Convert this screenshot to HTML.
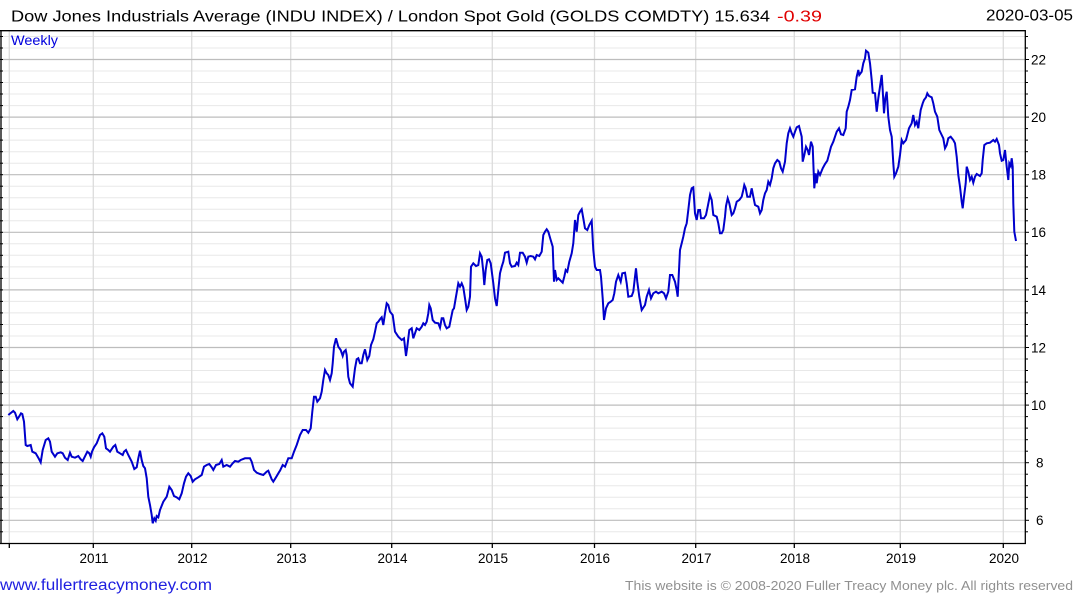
<!DOCTYPE html>
<html><head><meta charset="utf-8"><style>
html,body{margin:0;padding:0;background:#fff;}
svg{display:block;font-family:"Liberation Sans",Arial,sans-serif;}
</style></head><body>
<svg width="1075" height="600" viewBox="0 0 1075 600" xmlns="http://www.w3.org/2000/svg">
<rect width="1075" height="600" fill="#fff"/>
<!-- minor horizontal grid -->
<g stroke="#e8e8e8" stroke-width="1">
<line x1="1" x2="1025" y1="36.5" y2="36.5"/><line x1="1" x2="1025" y1="48" y2="48"/>
<line x1="1" x2="1025" y1="71" y2="71"/><line x1="1" x2="1025" y1="82.5" y2="82.5"/><line x1="1" x2="1025" y1="94" y2="94"/><line x1="1" x2="1025" y1="105.6" y2="105.6"/>
<line x1="1" x2="1025" y1="128.6" y2="128.6"/><line x1="1" x2="1025" y1="140.1" y2="140.1"/><line x1="1" x2="1025" y1="151.7" y2="151.7"/><line x1="1" x2="1025" y1="163.2" y2="163.2"/>
<line x1="1" x2="1025" y1="186.2" y2="186.2"/><line x1="1" x2="1025" y1="197.7" y2="197.7"/><line x1="1" x2="1025" y1="209.3" y2="209.3"/><line x1="1" x2="1025" y1="220.8" y2="220.8"/>
<line x1="1" x2="1025" y1="243.8" y2="243.8"/><line x1="1" x2="1025" y1="255.3" y2="255.3"/><line x1="1" x2="1025" y1="266.9" y2="266.9"/><line x1="1" x2="1025" y1="278.4" y2="278.4"/>
<line x1="1" x2="1025" y1="301.4" y2="301.4"/><line x1="1" x2="1025" y1="312.9" y2="312.9"/><line x1="1" x2="1025" y1="324.5" y2="324.5"/><line x1="1" x2="1025" y1="336" y2="336"/>
<line x1="1" x2="1025" y1="359" y2="359"/><line x1="1" x2="1025" y1="370.5" y2="370.5"/><line x1="1" x2="1025" y1="382.1" y2="382.1"/><line x1="1" x2="1025" y1="393.6" y2="393.6"/>
<line x1="1" x2="1025" y1="416.6" y2="416.6"/><line x1="1" x2="1025" y1="428.1" y2="428.1"/><line x1="1" x2="1025" y1="439.7" y2="439.7"/><line x1="1" x2="1025" y1="451.2" y2="451.2"/>
<line x1="1" x2="1025" y1="474.2" y2="474.2"/><line x1="1" x2="1025" y1="485.7" y2="485.7"/><line x1="1" x2="1025" y1="497.3" y2="497.3"/><line x1="1" x2="1025" y1="508.8" y2="508.8"/>
<line x1="1" x2="1025" y1="531.8" y2="531.8"/>
</g>
<!-- vertical grid -->
<g stroke="#dcdcdc" stroke-width="1.3">
<line x1="9.3" x2="9.3" y1="31" y2="543"/><line x1="93.3" x2="93.3" y1="31" y2="543"/><line x1="191.7" x2="191.7" y1="31" y2="543"/><line x1="290.7" x2="290.7" y1="31" y2="543"/><line x1="391.7" x2="391.7" y1="31" y2="543"/><line x1="492.3" x2="492.3" y1="31" y2="543"/><line x1="594.5" x2="594.5" y1="31" y2="543"/><line x1="695.7" x2="695.7" y1="31" y2="543"/><line x1="794.3" x2="794.3" y1="31" y2="543"/><line x1="900.3" x2="900.3" y1="31" y2="543"/><line x1="1003.3" x2="1003.3" y1="31" y2="543"/>
</g>
<!-- major horizontal grid -->
<g stroke="#bdbdbd" stroke-width="1.2">
<line x1="1" x2="1025" y1="59.5" y2="59.5"/><line x1="1" x2="1025" y1="117.1" y2="117.1"/><line x1="1" x2="1025" y1="174.7" y2="174.7"/><line x1="1" x2="1025" y1="232.3" y2="232.3"/><line x1="1" x2="1025" y1="289.9" y2="289.9"/><line x1="1" x2="1025" y1="347.5" y2="347.5"/><line x1="1" x2="1025" y1="405.1" y2="405.1"/><line x1="1" x2="1025" y1="462.7" y2="462.7"/><line x1="1" x2="1025" y1="520.3" y2="520.3"/>
</g>
<!-- frame -->
<g stroke="#000" stroke-width="1.3" fill="none">
<line x1="0" x2="1025" y1="30.7" y2="30.7"/>
<line x1="1" x2="1" y1="30" y2="544"/>
<line x1="1025.3" x2="1025.3" y1="30" y2="544"/>
<line x1="0" x2="1026" y1="543.5" y2="543.5"/>
</g>
<!-- right ticks -->
<g stroke="#000" stroke-width="1">
<line x1="1025" x2="1028" y1="36.5" y2="36.5"/><line x1="1025" x2="1028" y1="48" y2="48"/><line x1="1025" x2="1029" y1="59.5" y2="59.5"/>
<line x1="1025" x2="1028" y1="71" y2="71"/><line x1="1025" x2="1028" y1="82.5" y2="82.5"/><line x1="1025" x2="1028" y1="94" y2="94"/><line x1="1025" x2="1028" y1="105.6" y2="105.6"/><line x1="1025" x2="1029" y1="117.1" y2="117.1"/>
<line x1="1025" x2="1028" y1="128.6" y2="128.6"/><line x1="1025" x2="1028" y1="140.1" y2="140.1"/><line x1="1025" x2="1028" y1="151.7" y2="151.7"/><line x1="1025" x2="1028" y1="163.2" y2="163.2"/><line x1="1025" x2="1029" y1="174.7" y2="174.7"/>
<line x1="1025" x2="1028" y1="186.2" y2="186.2"/><line x1="1025" x2="1028" y1="197.7" y2="197.7"/><line x1="1025" x2="1028" y1="209.3" y2="209.3"/><line x1="1025" x2="1028" y1="220.8" y2="220.8"/><line x1="1025" x2="1029" y1="232.3" y2="232.3"/>
<line x1="1025" x2="1028" y1="243.8" y2="243.8"/><line x1="1025" x2="1028" y1="255.3" y2="255.3"/><line x1="1025" x2="1028" y1="266.9" y2="266.9"/><line x1="1025" x2="1028" y1="278.4" y2="278.4"/><line x1="1025" x2="1029" y1="289.9" y2="289.9"/>
<line x1="1025" x2="1028" y1="301.4" y2="301.4"/><line x1="1025" x2="1028" y1="312.9" y2="312.9"/><line x1="1025" x2="1028" y1="324.5" y2="324.5"/><line x1="1025" x2="1028" y1="336" y2="336"/><line x1="1025" x2="1029" y1="347.5" y2="347.5"/>
<line x1="1025" x2="1028" y1="359" y2="359"/><line x1="1025" x2="1028" y1="370.5" y2="370.5"/><line x1="1025" x2="1028" y1="382.1" y2="382.1"/><line x1="1025" x2="1028" y1="393.6" y2="393.6"/><line x1="1025" x2="1029" y1="405.1" y2="405.1"/>
<line x1="1025" x2="1028" y1="416.6" y2="416.6"/><line x1="1025" x2="1028" y1="428.1" y2="428.1"/><line x1="1025" x2="1028" y1="439.7" y2="439.7"/><line x1="1025" x2="1028" y1="451.2" y2="451.2"/><line x1="1025" x2="1029" y1="462.7" y2="462.7"/>
<line x1="1025" x2="1028" y1="474.2" y2="474.2"/><line x1="1025" x2="1028" y1="485.7" y2="485.7"/><line x1="1025" x2="1028" y1="497.3" y2="497.3"/><line x1="1025" x2="1028" y1="508.8" y2="508.8"/><line x1="1025" x2="1029" y1="520.3" y2="520.3"/><line x1="1025" x2="1028" y1="531.8" y2="531.8"/>
</g>
<!-- left ticks -->
<g stroke="#000" stroke-width="1">
<line x1="0" x2="3" y1="36.5" y2="36.5"/><line x1="0" x2="3" y1="48" y2="48"/><line x1="0" x2="3" y1="59.5" y2="59.5"/><line x1="0" x2="3" y1="71" y2="71"/><line x1="0" x2="3" y1="82.5" y2="82.5"/><line x1="0" x2="3" y1="94" y2="94"/><line x1="0" x2="3" y1="105.6" y2="105.6"/><line x1="0" x2="3" y1="117.1" y2="117.1"/><line x1="0" x2="3" y1="128.6" y2="128.6"/><line x1="0" x2="3" y1="140.1" y2="140.1"/><line x1="0" x2="3" y1="151.7" y2="151.7"/><line x1="0" x2="3" y1="163.2" y2="163.2"/><line x1="0" x2="3" y1="174.7" y2="174.7"/><line x1="0" x2="3" y1="186.2" y2="186.2"/><line x1="0" x2="3" y1="197.7" y2="197.7"/><line x1="0" x2="3" y1="209.3" y2="209.3"/><line x1="0" x2="3" y1="220.8" y2="220.8"/><line x1="0" x2="3" y1="232.3" y2="232.3"/><line x1="0" x2="3" y1="243.8" y2="243.8"/><line x1="0" x2="3" y1="255.3" y2="255.3"/><line x1="0" x2="3" y1="266.9" y2="266.9"/><line x1="0" x2="3" y1="278.4" y2="278.4"/><line x1="0" x2="3" y1="289.9" y2="289.9"/><line x1="0" x2="3" y1="301.4" y2="301.4"/><line x1="0" x2="3" y1="312.9" y2="312.9"/><line x1="0" x2="3" y1="324.5" y2="324.5"/><line x1="0" x2="3" y1="336" y2="336"/><line x1="0" x2="3" y1="347.5" y2="347.5"/><line x1="0" x2="3" y1="359" y2="359"/><line x1="0" x2="3" y1="370.5" y2="370.5"/><line x1="0" x2="3" y1="382.1" y2="382.1"/><line x1="0" x2="3" y1="393.6" y2="393.6"/><line x1="0" x2="3" y1="405.1" y2="405.1"/><line x1="0" x2="3" y1="416.6" y2="416.6"/><line x1="0" x2="3" y1="428.1" y2="428.1"/><line x1="0" x2="3" y1="439.7" y2="439.7"/><line x1="0" x2="3" y1="451.2" y2="451.2"/><line x1="0" x2="3" y1="462.7" y2="462.7"/><line x1="0" x2="3" y1="474.2" y2="474.2"/><line x1="0" x2="3" y1="485.7" y2="485.7"/><line x1="0" x2="3" y1="497.3" y2="497.3"/><line x1="0" x2="3" y1="508.8" y2="508.8"/><line x1="0" x2="3" y1="520.3" y2="520.3"/><line x1="0" x2="3" y1="531.8" y2="531.8"/>
</g>
<!-- bottom ticks -->
<g stroke="#000" stroke-width="1.3">
<line x1="9.3" x2="9.3" y1="543" y2="548"/><line x1="93.3" x2="93.3" y1="543" y2="548"/><line x1="191.7" x2="191.7" y1="543" y2="548"/><line x1="290.7" x2="290.7" y1="543" y2="548"/><line x1="391.7" x2="391.7" y1="543" y2="548"/><line x1="492.3" x2="492.3" y1="543" y2="548"/><line x1="594.5" x2="594.5" y1="543" y2="548"/><line x1="695.7" x2="695.7" y1="543" y2="548"/><line x1="794.3" x2="794.3" y1="543" y2="548"/><line x1="900.3" x2="900.3" y1="543" y2="548"/><line x1="1003.3" x2="1003.3" y1="543" y2="548"/>
</g>
<!-- series -->
<polyline fill="none" stroke="#0000cc" stroke-width="2" stroke-linejoin="miter" points="
8.3,415 13.3,411 15,412.7 17.3,419.3 19,416.7 21,413.3 22.3,414 24,421.7 25.7,445 27.3,446 30.7,445 32.3,451.7 35.7,453.3 39,459 40.7,462.3 42.7,450 45.7,440 48.3,438.3 50,441.7 51.7,451.7 55,456.7 57.3,453.3 60.7,452.3 62.7,453.3 65,457.7 67.7,460 70,452.7 71.7,456.7 75,457.7 78.3,456 80.7,459.3 82.7,461 87.3,451.7 89.3,453.3 90.7,456.7 92,451.7 94,447.3 96.7,443.3 100,435 102.3,433.3 104.3,436.7 106,448.3 108.3,450 110,451.7 113.3,446.7 115.3,445 117.3,451.7 120,453.3 122.7,455 124,451.7 126,450 128.3,455 131.7,461.7 134.3,469 136.7,467.3 138.3,458.3 140,450.7 141.7,460 143.3,466 145,468.3 146.7,478.3 148.3,496.7 150,505 151.7,515 152.7,523.3 154.3,518.3 155.7,520.7 156.7,516 158.3,517.3 160,510 163.3,501.7 166.7,496.7 169.3,486.7 171.7,490 174,496 176.7,497.3 179.3,499.3 181.7,493.3 184,483.3 186,476.7 188.3,473.3 190.7,476 192.7,481.7 195,479.3 198.3,477.3 201.7,475 204,466.7 206.7,465 209.3,464 211.7,467.3 213.3,470 216,465 219.3,464 221.7,460 223.3,466.7 226.7,465 230,466.7 232.7,463.3 235,461 238.3,461.7 240.7,460 245,458.3 250,458.3 251.7,461.7 254,470 256.7,472.7 260,474 263.3,475 266.7,471.7 268.3,470.7 270,475 271.7,479.3 273.3,481.7 276,477.3 279.3,471.7
280,470.7 282.7,465 285,466.7 288.3,458.3 291.7,458.3 294,451.7 296.7,445 300,435 302.7,430 306,430 308.3,432.7 310.7,428.3 312.3,411.7 314,396.7 315.7,396.7 317.3,401.7 320,398.3 321.7,391.7 323.3,380 325,370 326.7,373.3 328.3,375 330,380 331.7,373.3 332.7,363.3 334,346.7 336,338.3 338.3,346.7 340.7,350 342.7,356 344,351.7 345.7,350 346.7,355 348.3,376.7 350,383.3 352.7,386.7 355,368.3 356.7,359.3 358.3,358.3 360,363.3 361.7,363.3 363.3,355 365,349.3 367.3,360 369.3,356 371,345 373.3,339.3 375,331.7 376.7,323.3 378.3,321.7 380,319.3 381.7,317.3 383.3,325 385,313.3 386.7,303.3 388.3,305 390,311.7 392.7,315 395,331.7 398.3,336.7 401.7,340 404,338.3 406,356 407.3,346.7 409.3,330 411.7,328.3 413.3,338.3 415,333.3 416.7,328.3 419.3,330 421.7,326.7 423.3,323.3 425,325 426.7,321.7 428.3,313.3 429.3,305 430.7,308.3 432.7,320 435,322.7 438.3,323.3 440,327.7 441.7,318.3 443.3,318.3 445,325 446.7,328.3 449.3,326.7 451,318.3 452.7,310 454,308.3 455.7,298.3 458.3,283.3 460,286.7 461.7,283.3 463.3,287.3 465,298.3 466.7,310 468.3,306.7 470,296.7 471,266.7 473.3,263.3 476,266 478.3,265 480,253.3 481.7,256.7 483.3,271.7 484.3,285 485.7,270 487.3,260 489,259.3 490.7,263.3 493.3,283.3 495,298.3 496.7,306 498.3,290 500,273.3 501.7,266.7 503.3,261.7 505,252.7 508.3,251.7 510,263.3 511.7,266.7 515,266 516.7,262.7 518.3,265 520,252.7 522.7,252.7 525,256.7 526.7,262.7 528.3,256.7 530.7,256 533.3,256.7 535,259.3 536.7,255 539.3,256 541.7,251.7 543.3,235 545,231.7 546.7,229.3 548.3,231.7 550.7,240 552.7,246.7 554,281.7 555,270 556.7,280 558.3,278.3 560.7,280.7 562.7,282.7 564.3,276.7 565.7,270 567.3,271.7 569.3,261.7 571.7,253.3 573.3,243.3 575,220 576.7,231.7 578.3,215 580,211.7 581.7,209.3 583.3,218.3 585,228.3 587.3,230 589.3,225 591.7,220.7 593.3,250 595,266.7
596.7,270 600,270 601,276.7 602.7,298.3 604,320 606,308.3 608.3,303.3 610.7,301.7 612.7,300 614.3,293.3 616,281.7 618.3,275 620.7,281.7 622.3,273.3 625,272.7 626.7,283.3 628.3,296.7 631.7,296 633.3,291.7 635,276.7 636,268.3 637.3,281.7 639.3,296.7 641.7,310 645,305 646.7,296.7 649,290 651,298.3 653.3,293.3 656,291.7 658.3,293.3 661.7,291.7 664,293.3 666,298.3 668.3,291.7 670,275 672.3,275 675,281.7 676.7,290 677.7,296.7 679,270 680,250 681.7,243.3 683.3,236.7 685,228.3 686.7,223.3 688.3,210 690,195 691.7,188.3 693.3,187.3 695,213.3 696.7,220 698.3,210 700,210 701,218.3 704,218.3 706,215 707.7,206.7 710,195 711.7,200 713.3,215 716.7,216.7 718.3,223.3 720,233.3 721.7,233.3 723.3,230 725,216.7 726,206 727.7,198.3 729.3,203.3 731.7,215 733.3,213.3 735,208.3 736.7,201.7 739.3,200 741.7,196.7 743.3,190 744.3,185 745.7,188.3 747.3,196.7 750,196.7 751.7,188.3 753.3,196.7 755,205 758.3,206.7 760,213.3 761.7,210 763.3,200 765,193.3 766.7,190 768.3,181.7 770,185 771.7,178.3 773.3,168.3 775,163.3 777.3,160 779.3,161.7 781,168.3 782.7,171.7 785,161.7 786.7,143.3 788.3,133.3 790,128.3 791.7,133.3 793.3,136.7 795,131.7 796.7,127.3 799,126
801.7,136.7 802.7,161.7 804.3,155 806,146.7 807.7,150 809,155 811,141.7 812.7,146.7 814.3,188.3 815.7,173.3 816.7,183.3 818.3,171.7 820,175 822.7,168.3 825,164 827.3,160.7 829.3,153.3 831,146.7 833.3,141.7 835,136.7 836.7,131.7 839,128.3 841,134.3 843.3,135 845.7,128.3 846.7,111.7 848.3,106.7 850,100 851.7,90 855,89.3 856.7,76.7 858.3,70 859.3,75 861.7,71.7 863.3,63.3 865,58.3 866,50.7 868.3,52.7 870,63.3 871.7,80 872.7,92.7 875,93.3 876.7,111.7 878.3,98.3 880,86.7 881.7,75 882.7,90 884,113.3 885.3,98.3 886.7,91.7 888.3,116.7 890,130 891.7,136.7 893.3,163.3 894.3,176.7 896,173.3 898.3,166.7 900,155 901.7,140 903.3,143.3 906,140 907.3,135 909,128.3 911.7,123.3 913.3,115 915,125 916.7,121.7 918.3,128.3 919.3,120 920.7,110 922.7,103.3 924,100 926,97.3 927.3,93.3 929,96 931.7,97.3 933.3,103.3 935,111.7 937.3,116.7 939.3,130 941.7,135 943.3,138.3 945,148.3 946.7,145 948.3,138.3 950.7,136.7 953.3,140 955,143.3 956.7,156.7 958.3,175 960,186.7 961.7,201.7 962.7,208.3 964,196.7 965.7,183.3 966.7,166.7 968.3,171.7 970,180 971.7,176.7 973.3,182.7 975,176.7 976.7,174 980,176 981.7,173.3 982.7,160 984.3,145 986.7,143.3 990,142.7 993.3,140 995,141.7 996.7,139 999,145 1000,153.3 1001.7,160.7 1003.3,160 1005,150 1006.7,166.7 1008.3,180 1009.3,163.3 1010.7,166 1011.7,158.3 1012.7,166.7 1013.3,203.3 1014.3,231.7 1016,241"/>
<!-- texts -->
<text x="11" y="21.5" font-size="16" fill="#000" textLength="759" lengthAdjust="spacingAndGlyphs">Dow Jones Industrials Average (INDU INDEX) / London Spot Gold (GOLDS COMDTY) 15.634</text>
<text x="777" y="21.5" font-size="16" fill="#e00000" textLength="45" lengthAdjust="spacingAndGlyphs">-0.39</text>
<text x="986" y="20.5" font-size="16" fill="#000" textLength="87" lengthAdjust="spacingAndGlyphs">2020-03-05</text>
<text x="11" y="45" font-size="14" fill="#0000dd" textLength="47" lengthAdjust="spacingAndGlyphs">Weekly</text>
<g font-size="13.5" fill="#000">
<text x="1031" y="64.5">22</text><text x="1031" y="122">20</text><text x="1031" y="179.5">18</text><text x="1031" y="237">16</text><text x="1031" y="295">14</text><text x="1031" y="352.5">12</text><text x="1031" y="410">10</text><text x="1036" y="467.5">8</text><text x="1036" y="525">6</text>
</g>
<g font-size="13.5" fill="#000" text-anchor="middle">
<text x="94" y="563">2011</text><text x="192.5" y="563">2012</text><text x="291.5" y="563">2013</text><text x="392.5" y="563">2014</text><text x="493" y="563">2015</text><text x="595" y="563">2016</text><text x="696.5" y="563">2017</text><text x="795" y="563">2018</text><text x="901" y="563">2019</text><text x="1004" y="563">2020</text>
</g>
<text x="0" y="590" font-size="15.5" fill="#1f1fe0" textLength="212" lengthAdjust="spacingAndGlyphs">www.fullertreacymoney.com</text>
<text x="625" y="590" font-size="13" fill="#909090" textLength="448" lengthAdjust="spacingAndGlyphs">This website is © 2008-2020 Fuller Treacy Money plc. All rights reserved</text>
</svg>
</body></html>
